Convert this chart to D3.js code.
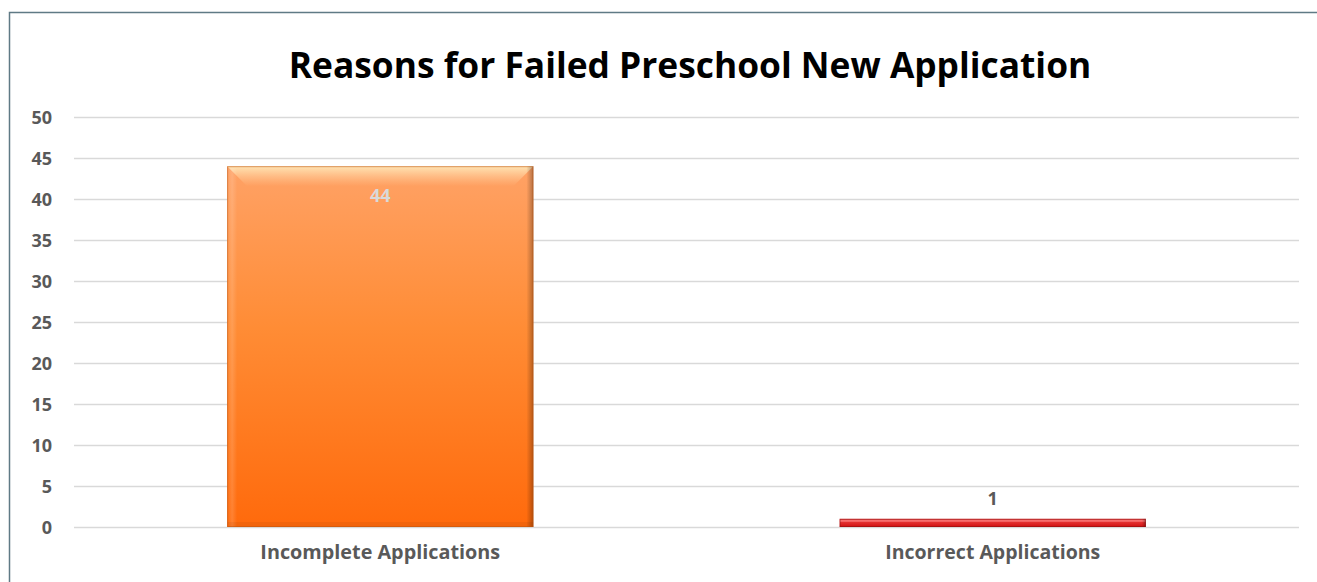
<!DOCTYPE html>
<html><head><meta charset="utf-8">
<script src="https://cdn.jsdelivr.net/npm/d3@7"></script>
<style>html,body{margin:0;padding:0;background:#fff;}svg{display:block;font-family:"Open Sans",Lato,sans-serif;}</style>
</head><body><svg id="c" width="1317" height="582"></svg>
<script>
const categories = ["Incomplete Applications", "Incorrect Applications"];
const values = [44, 1];
const yTicks = [0,5,10,15,20,25,30,35,40,45,50];
const title = "Reasons for Failed Preschool New Application";

const svg = d3.select("#c");
const W = 1317, H = 582;
const m = {left:74, right:18, top:117, bottom:55};
const x = d3.scaleBand().domain(categories).range([m.left, W - m.right]).paddingInner(0.5).paddingOuter(0.25);
const y = d3.scaleLinear().domain([0,50]).range([H - m.bottom, m.top]);

function fit(sel, target){
  const w = sel.node().getComputedTextLength();
  const fs = parseFloat(sel.attr("font-size"));
  sel.attr("font-size", (fs*target/w).toFixed(2));
}

// frame
svg.append("path").attr("d",`M9.5,${H} L9.5,12.5 L${W},12.5`).attr("fill","none").attr("stroke","#5f7a85").attr("stroke-width",1.5);

const defs = svg.append("defs");
const g1 = defs.append("linearGradient").attr("id","gOr").attr("x1",0).attr("y1",0).attr("x2",0).attr("y2",1);
g1.append("stop").attr("offset","0%").attr("stop-color","#ffa266");
g1.append("stop").attr("offset","45%").attr("stop-color","#ff8c35");
g1.append("stop").attr("offset","100%").attr("stop-color","#ff6a0c");
const g2 = defs.append("linearGradient").attr("id","gRd").attr("x1",0).attr("y1",0).attr("x2",0).attr("y2",1);
g2.append("stop").attr("offset","0%").attr("stop-color","#f24848");
g2.append("stop").attr("offset","100%").attr("stop-color","#d01010");
const gTop = defs.append("linearGradient").attr("id","gTop").attr("x1",0).attr("y1",0).attr("x2",0).attr("y2",1);
gTop.append("stop").attr("offset","0%").attr("stop-color","#ffe8b8").attr("stop-opacity",0.95);
gTop.append("stop").attr("offset","100%").attr("stop-color","#ffd0a0").attr("stop-opacity",0.0);
const gR = defs.append("linearGradient").attr("id","gR").attr("x1",0).attr("y1",0).attr("x2",1).attr("y2",0);
gR.append("stop").attr("offset","0%").attr("stop-color","#000").attr("stop-opacity",0);
gR.append("stop").attr("offset","100%").attr("stop-color","#000").attr("stop-opacity",0.3);
const gL = defs.append("linearGradient").attr("id","gL").attr("x1",0).attr("y1",0).attr("x2",1).attr("y2",0);
gL.append("stop").attr("offset","0%").attr("stop-color","#fff").attr("stop-opacity",0.0);
gL.append("stop").attr("offset","50%").attr("stop-color","#fff").attr("stop-opacity",0.15);
gL.append("stop").attr("offset","100%").attr("stop-color","#fff").attr("stop-opacity",0.0);

// gridlines
const yAxis = d3.axisLeft(y).tickValues(yTicks).tickSize(-(W - m.right - m.left)).tickPadding(22);
const ga = svg.append("g").attr("transform",`translate(${m.left},0)`).call(yAxis);
ga.select(".domain").remove();
ga.selectAll(".tick line").attr("stroke","#d9d9d9").attr("stroke-width",1.5);
ga.selectAll(".tick text").attr("fill","#595959").attr("font-size",18).attr("font-weight","bold").attr("dy","0.35em").attr("font-family","'Open Sans'");

// title
const t = svg.append("text").attr("x",690).attr("y",78).attr("text-anchor","middle")
  .attr("font-size",36).attr("font-weight","bold").attr("fill","#000").text(title);
fit(t, 803);

// bars
const fills = ["url(#gOr)","url(#gRd)"];
const edgeDark = ["#b85410","#801010"];
const labelTargets = [240, 215];
const bars = svg.append("g");
categories.forEach((c,i)=>{
  const x0 = x(c), bw = x.bandwidth(), y0 = y(values[i]), y1 = y(0), h = y1 - y0;
  const g = bars.append("g");
  g.append("rect").attr("x",x0).attr("y",y0).attr("width",bw).attr("height",h).attr("fill",fills[i]);
  if (h > 40) {
    const b = 20;
    g.append("path").attr("d",`M${x0},${y0} L${x0+bw},${y0} L${x0+bw-b},${y0+b} L${x0+b},${y0+b} Z`).attr("fill","url(#gTop)");
    g.append("rect").attr("x",x0).attr("y",y0+2).attr("width",10).attr("height",h-2).attr("fill","url(#gL)");
    g.append("rect").attr("x",x0+bw-7).attr("y",y0).attr("width",7).attr("height",h).attr("fill","url(#gR)");
    g.append("rect").attr("x",x0).attr("y",y1-5).attr("width",bw).attr("height",5).attr("fill","#000").attr("opacity",0.05);
  } else {
    g.append("rect").attr("x",x0).attr("y",y0+1).attr("width",bw).attr("height",2).attr("fill","#ff9090").attr("opacity",0.6);
    g.append("rect").attr("x",x0+bw-4).attr("y",y0).attr("width",4).attr("height",h).attr("fill","url(#gR)");
  }
  g.append("rect").attr("x",x0+0.5).attr("y",y0+0.5).attr("width",bw-1).attr("height",h-1).attr("fill","none").attr("stroke",edgeDark[i]).attr("stroke-opacity",0.5).attr("stroke-width",1);
  // labels
  const inside = h > 40;
  svg.append("text").attr("x",x0+bw/2).attr("y", inside ? y0+36 : y0-14).attr("text-anchor","middle")
    .attr("font-size",18).attr("font-weight","bold").attr("fill", inside ? "#d9d9d9" : "#595959").text(values[i]);
  const lt = svg.append("text").attr("x",x0+bw/2).attr("y",H-23).attr("text-anchor","middle")
    .attr("font-size",17).attr("font-weight","bold").attr("fill","#595959").text(c);
  fit(lt, labelTargets[i]);
});
</script></body></html>
